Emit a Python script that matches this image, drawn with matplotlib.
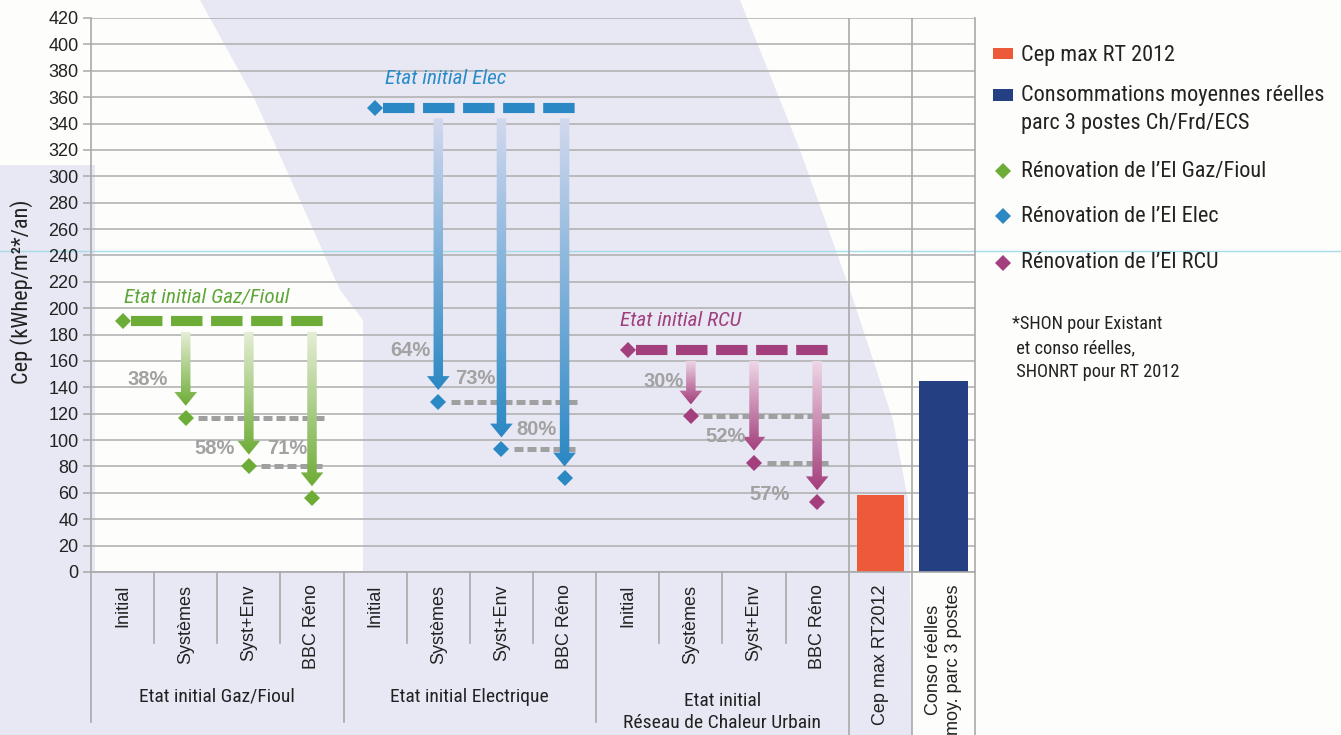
import numpy as np
import matplotlib
matplotlib.use('Agg')
import matplotlib.pyplot as plt
from matplotlib.patches import Polygon, Rectangle
from matplotlib.lines import Line2D
from matplotlib.colors import LinearSegmentedColormap
from matplotlib import font_manager

# ---------------- data ----------------
steps = ['Initial', 'Systèmes', 'Syst+Env', 'BBC Réno']
bar_labels = ['Cep max RT2012', 'Conso réelles\nmoy. parc 3 postes']
group_labels = ['Etat initial Gaz/Fioul', 'Etat initial Electrique',
                'Etat initial\nRéseau de Chaleur Urbain']
series_titles = ['Etat initial Gaz/Fioul', 'Etat initial Elec', 'Etat initial RCU']
gaz_values = [190, 117, 80, 56]
elec_values = [352, 129, 93, 71]
rcu_values = [168, 118, 83, 53]
gaz_pct = ['38%', '58%', '71%']
elec_pct = ['64%', '73%', '80%']
rcu_pct = ['30%', '52%', '57%']
bar_values = [58, 145]
legend_labels = ['Cep max RT 2012',
                 'Consommations moyennes réelles\nparc 3 postes Ch/Frd/ECS',
                 "Rénovation de l’El Gaz/Fioul",
                 "Rénovation de l’El Elec",
                 "Rénovation de l’El RCU"]
note_text = "*SHON pour Existant\n et conso réelles,\n SHONRT pour RT 2012"
ylabel_text = "Cep (kWhep/m²*/an)"
yticks = list(range(0, 421, 20))

# ---------------- style / layout ----------------
names = {f.name for f in font_manager.fontManager.ttflist}
cond, k = 'Liberation Sans', 0.82
for cand in ['Roboto Condensed', 'Liberation Sans Narrow', 'Arial Narrow', 'PT Sans Narrow',
             'Archivo Narrow', 'Fira Sans Condensed', 'IBM Plex Sans Condensed']:
    if cand in names:
        cond, k = cand, 1.0
        break
base = 'Liberation Sans'
for cand in ['Liberation Sans', 'Arimo']:
    if cand in names:
        base = cand
        break
plt.rcParams['font.family'] = [base, 'DejaVu Sans']
CF = [cond, base, 'DejaVu Sans']

W, H = 1341, 735
def fx(px):
    return px / W
def fy(py):
    return 1 - py / H

greens = dict(main='#6dac36', top='#e6eed6', title='#5fa73a')
blues = dict(main='#2a88c4', top='#d3d9ee', title='#2a8bc9')
mags = dict(main='#a33f7c', top='#efd7e6', title='#a0407e')
series = [(gaz_values, gaz_pct, greens), (elec_values, elec_pct, blues), (rcu_values, rcu_pct, mags)]
pct_pos = [[(-0.61, 145.6), (-0.55, 94), (-0.39, 94)],
           [(-0.44, 168), (-0.41, 147), (-0.44, 107.7)],
           [(-0.43, 144.8), (-0.45, 103), (-0.76, 59)]]
title_pos = [(0.02, 208.5), (0.15, 373.8), (-0.13, 190.3)]
bar_colors = ['#ec5a3a', '#243f82']
grid_c = '#b3b3b3'
sep_c = '#a9a9a9'
txt_c = '#222222'

fig = plt.figure(figsize=(W / 100, H / 100), dpi=100)
fig.patch.set_facecolor('#fdfdfb')

# background lavender band (scanned page)
lav = [(0, 0), (740, 0), (800, 150), (850, 290), (893, 420), (908, 500), (910, 580),
       (912, 735), (0, 735)]
fig.add_artist(Polygon([(fx(a), fy(b)) for a, b in lav], closed=True,
                       transform=fig.transFigure, facecolor='#e8e8f4', edgecolor='none', zorder=-10))
wht = [(0, 0), (200, 0), (255, 100), (300, 200), (340, 290), (363, 320), (363, 572),
       (95, 572), (95, 165), (0, 165)]
fig.add_artist(Polygon([(fx(a), fy(b)) for a, b in wht], closed=True,
                       transform=fig.transFigure, facecolor='#fdfdfb', edgecolor='none', zorder=-9))
fig.add_artist(Line2D([0, 1], [fy(251), fy(251)], transform=fig.transFigure,
                      color='#a6dbe8', lw=1.0, zorder=-8))

ax = fig.add_axes([fx(91), fy(572), fx(975) - fx(91), fy(18) - fy(572)])
ax.set_facecolor('none')
ax.set_xlim(-0.5, 13.5)
ax.set_ylim(0, 420)

ax.set_yticks(yticks)
ax.set_yticklabels([str(v) for v in yticks], fontsize=13, color=txt_c)
ax.yaxis.grid(True, color=grid_c, lw=1.2)
ax.set_axisbelow(True)
ax.tick_params(axis='y', length=6, width=1.1, color=sep_c, pad=3)
ax.set_xticks(range(14))
ax.set_xticklabels(steps * 3 + bar_labels, rotation=90, fontsize=13, color=txt_c,
                   va='top', ha='center')
ax.tick_params(axis='x', length=0, pad=9)
for s in ['left', 'bottom', 'right']:
    ax.spines[s].set_color(sep_c)
    ax.spines[s].set_linewidth(1.2)
ax.spines['top'].set_visible(False)

xt = ax.get_xaxis_transform()
for xv in [11.5, 12.5]:
    ax.axvline(xv, color=sep_c, lw=1.2, zorder=1)
# separators in the label zone
for xv in [0.5, 1.5, 2.5, 4.5, 5.5, 6.5, 8.5, 9.5, 10.5]:
    ax.plot([xv, xv], [0, -0.128], transform=xt, color=sep_c, lw=1.2, clip_on=False)
for xv in [-0.5, 3.5, 7.5]:
    ax.plot([xv, xv], [0, -0.271], transform=xt, color=sep_c, lw=1.2, clip_on=False)
for xv in [11.5, 12.5, 13.5]:
    ax.plot([xv, xv], [0, -0.30], transform=xt, color=sep_c, lw=1.2, clip_on=False)

ax.text(1.5, -0.2256, group_labels[0], transform=xt, ha='center', va='center',
        fontsize=14 * k, family=CF, color=txt_c)
ax.text(5.5, -0.2256, group_labels[1], transform=xt, ha='center', va='center',
        fontsize=14 * k, family=CF, color=txt_c)
ax.text(9.5, -0.253, group_labels[2], transform=xt, ha='center', va='center',
        fontsize=14 * k, family=CF, color=txt_c, linespacing=1.25)

# bars
ax.bar([12, 13], bar_values, width=[0.75, 0.78], color=bar_colors, zorder=2)


def grad_arrow(x, y_top, y_tip, c_top, c_bot):
    sw, hw, hl = 0.15, 0.36, 10.5
    verts = [(x - sw / 2, y_top), (x + sw / 2, y_top), (x + sw / 2, y_tip + hl),
             (x + hw / 2, y_tip + hl), (x, y_tip), (x - hw / 2, y_tip + hl),
             (x - sw / 2, y_tip + hl)]
    patch = Polygon(verts, closed=True, facecolor='none', edgecolor='none')
    ax.add_patch(patch)
    grad = np.linspace(0, 1, 256).reshape(-1, 1)
    cmap = LinearSegmentedColormap.from_list('g', [c_top, c_bot])
    im = ax.imshow(grad, extent=[x - hw / 2, x + hw / 2, y_tip, y_top], origin='upper',
                   cmap=cmap, aspect='auto', zorder=3, interpolation='bilinear')
    im.set_clip_path(patch)


for g, (vals, pcts, col) in enumerate(series):
    x0 = 4 * g
    xs = [x0 + i for i in range(4)]
    start = vals[0]
    # thick dashed initial level
    ln, = ax.plot([xs[0] + 0.13, xs[3] + 0.2], [start, start], color=col['main'],
                  lw=7.3, solid_capstyle='butt', dash_capstyle='butt', zorder=3)
    ln.set_dashes([3.1, 0.85])
    # gray dashed reference levels
    for i in (1, 2):
        gl, = ax.plot([xs[i] + 0.2, xs[3] + 0.2], [vals[i], vals[i]], color='#a0a0a0',
                      lw=3.6, dash_capstyle='butt', zorder=2.5)
        gl.set_dashes([1.8, 0.8])
    # arrows
    for i in (1, 2, 3):
        grad_arrow(xs[i], start - 8, vals[i] + 9, col['top'], col['main'])
    # diamonds
    ax.plot(xs, vals, 'D', color=col['main'], markersize=8.5, mew=0, zorder=4)
    # percentages
    for i, p in enumerate(pcts):
        dx, yv = pct_pos[g][i]
        ax.text(xs[i + 1] + dx, yv, p, ha='center', va='center', fontsize=14.5,
                fontweight='bold', color='#a2a2a2', zorder=5)
    tx, ty = title_pos[g]
    ax.text(x0 + tx, ty, series_titles[g], ha='left', va='center', fontsize=15.3 * k,
            style='italic', family=CF, color=col['title'], zorder=5)

ax.set_xlim(-0.5, 13.5)
ax.set_ylim(0, 420)

# y label
fig.text(fx(22), fy(292), ylabel_text, rotation=90, ha='center', va='center',
         fontsize=16 * k, family=CF, color=txt_c)

# legend (manual)
fig.add_artist(Rectangle((fx(993), fy(59)), fx(20), fy(48) - fy(59), transform=fig.transFigure,
                         facecolor=bar_colors[0], edgecolor='none'))
fig.add_artist(Rectangle((fx(993), fy(101)), fx(20), fy(89) - fy(101), transform=fig.transFigure,
                         facecolor=bar_colors[1], edgecolor='none'))
for yy, c in zip([171, 216, 263], [greens['main'], blues['main'], mags['main']]):
    fig.add_artist(Line2D([fx(1003)], [fy(yy)], transform=fig.transFigure, marker='D',
                          color=c, markersize=8, mew=0, linestyle='none'))
leg_y = [55, 109.5, 172, 217, 263]
for yy, lab in zip(leg_y, legend_labels):
    fig.text(fx(1021), fy(yy), lab, ha='left', va='center', fontsize=16 * k, family=CF,
             color=txt_c, linespacing=1.45)
fig.text(fx(1012), fy(348), note_text, ha='left', va='center', fontsize=13.2 * k,
         family=CF, color=txt_c, linespacing=1.42)

fig.savefig('out.png', dpi=100)
